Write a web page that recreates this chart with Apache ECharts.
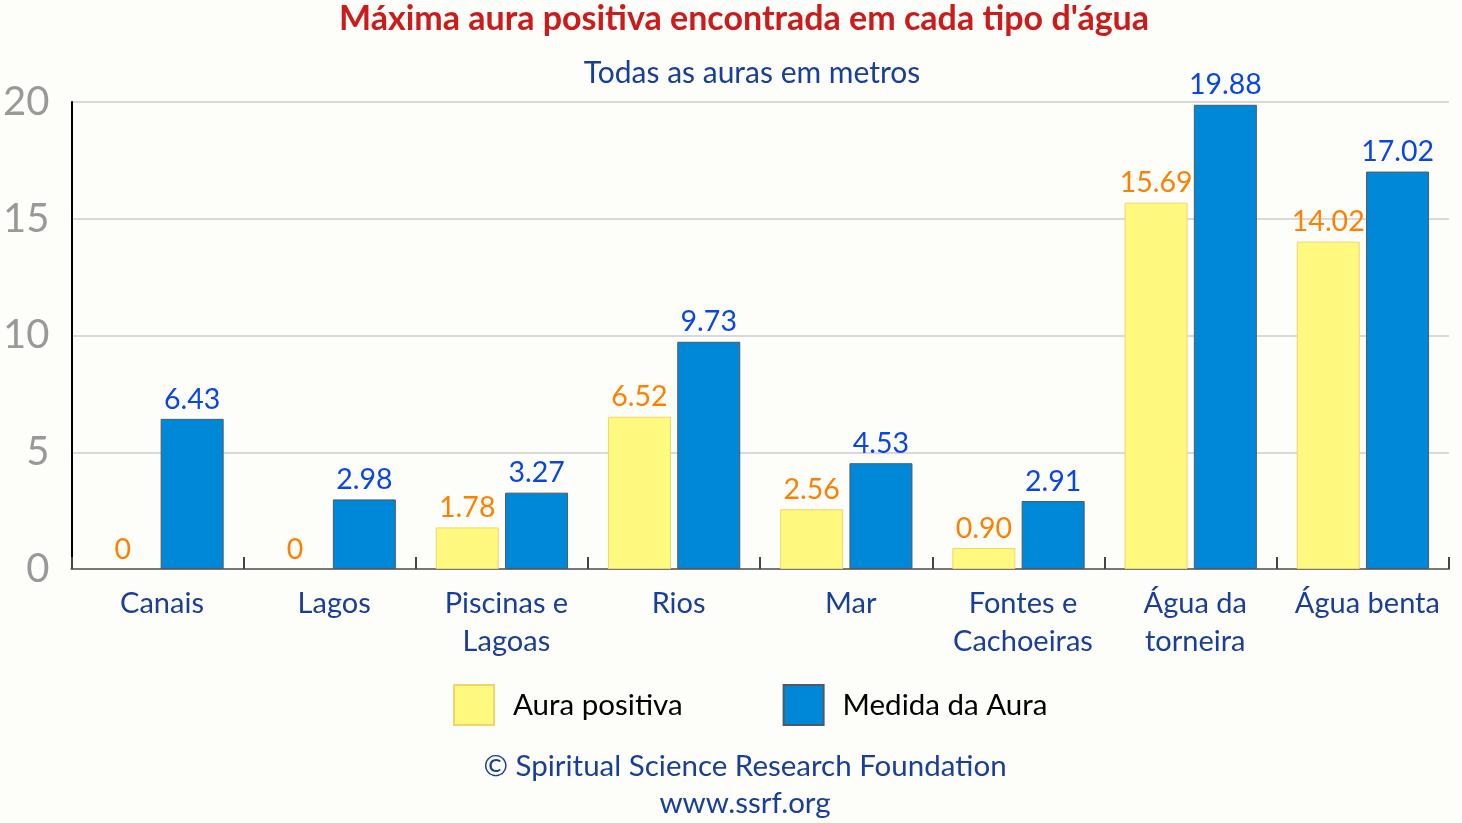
<!DOCTYPE html>
<html>
<head>
<meta charset="utf-8">
<script src="https://cdn.jsdelivr.net/npm/echarts@6/dist/echarts.min.js"></script>
<style>
  html, body { margin: 0; padding: 0; background: #fdfdfa; }
  #chart { width: 1462px; height: 823px; }
</style>
</head>
<body>
<div id="chart"></div>
<script>
// dados
const categories = ['Canais', 'Lagos', 'Piscinas e\nLagoas', 'Rios', 'Mar', 'Fontes e\nCachoeiras', 'Água da\ntorneira', 'Água benta'];
const auraPositiva = [0, 0, 1.78, 6.52, 2.56, 0.90, 15.69, 14.02];
const medidaAura = [6.43, 2.98, 3.27, 9.73, 4.53, 2.91, 19.88, 17.02];
const yTicks = [0, 5, 10, 15, 20];

const font = 'Lato, "Open Sans", sans-serif';
const fmt = p => (p.value === 0 ? '0' : p.value.toFixed(2));
// barras com valor 0 sem contorno
const noBorderAtZero = arr => arr.map(v => (v === 0 ? { value: v, itemStyle: { borderWidth: 0 } } : v));

const chart = echarts.init(document.getElementById('chart'));

chart.setOption({
  backgroundColor: '#fdfdfa',
  textStyle: { fontFamily: font },
  title: [
    {
      text: "Máxima aura positiva encontrada em cada tipo d'água",
      left: 739, top: -3, textAlign: 'center',
      textStyle: { color: '#cc1b1b', fontSize: 34, fontWeight: 'bold', fontFamily: font }
    },
    {
      text: 'Todas as auras em metros',
      left: 747, top: 53, textAlign: 'center',
      textStyle: { color: '#1a3f99', fontSize: 30, fontWeight: 'normal', fontFamily: font }
    },
    {
      text: '© Spiritual Science Research Foundation',
      left: 740, top: 746, textAlign: 'center',
      textStyle: { color: '#1a3f99', fontSize: 29.5, fontWeight: 'normal', fontFamily: font }
    },
    {
      text: 'www.ssrf.org',
      left: 740, top: 783, textAlign: 'center',
      textStyle: { color: '#1a3f99', fontSize: 29.5, fontWeight: 'normal', fontFamily: font }
    }
  ],
  legend: {
    top: 679, left: 448,
    icon: 'rect',
    itemWidth: 40, itemHeight: 40, itemGap: 100,
    textStyle: { color: '#000', fontSize: 29.5, padding: [0, 0, 0, 14], fontFamily: font },
    data: ['Aura positiva', 'Medida da Aura']
  },
  grid: { left: 70, right: 13, top: 102, bottom: 254 },
  xAxis: {
    type: 'category',
    data: categories,
    axisLine: { lineStyle: { color: '#777', width: 2 } },
    axisTick: { show: true, inside: true, length: 12, lineStyle: { color: '#444', width: 2 } },
    axisLabel: { color: '#1a3f99', fontSize: 29, lineHeight: 38, margin: 16, interval: 0, padding: [0, 0, 0, 9], fontFamily: font }
  },
  yAxis: {
    type: 'value',
    min: yTicks[0], max: yTicks[yTicks.length - 1], interval: 5,
    axisLine: { show: true, lineStyle: { color: '#000', width: 2 } },
    axisTick: { show: false },
    axisLabel: { color: '#999', fontSize: 40, margin: 22, fontFamily: font },
    splitLine: { lineStyle: { color: '#d9d9d9', width: 2 } }
  },
  series: [
    {
      name: 'Aura positiva',
      type: 'bar',
      data: noBorderAtZero(auraPositiva),
      barWidth: 63,
      barGap: '10%',
      itemStyle: { color: '#fff97f', borderColor: '#f5d36a', borderWidth: 1 },
      label: { show: true, position: 'top', distance: 5, color: '#ff8000', fontSize: 28.5, formatter: fmt, fontFamily: font }
    },
    {
      name: 'Medida da Aura',
      type: 'bar',
      data: medidaAura,
      barWidth: 63,
      barGap: '10%',
      itemStyle: { color: '#0088d8', borderColor: '#4d5a66', borderWidth: 1 },
      label: { show: true, position: 'top', distance: 5, color: '#0a46e6', fontSize: 28.5, formatter: fmt, fontFamily: font }
    }
  ]
});
</script>
</body>
</html>
